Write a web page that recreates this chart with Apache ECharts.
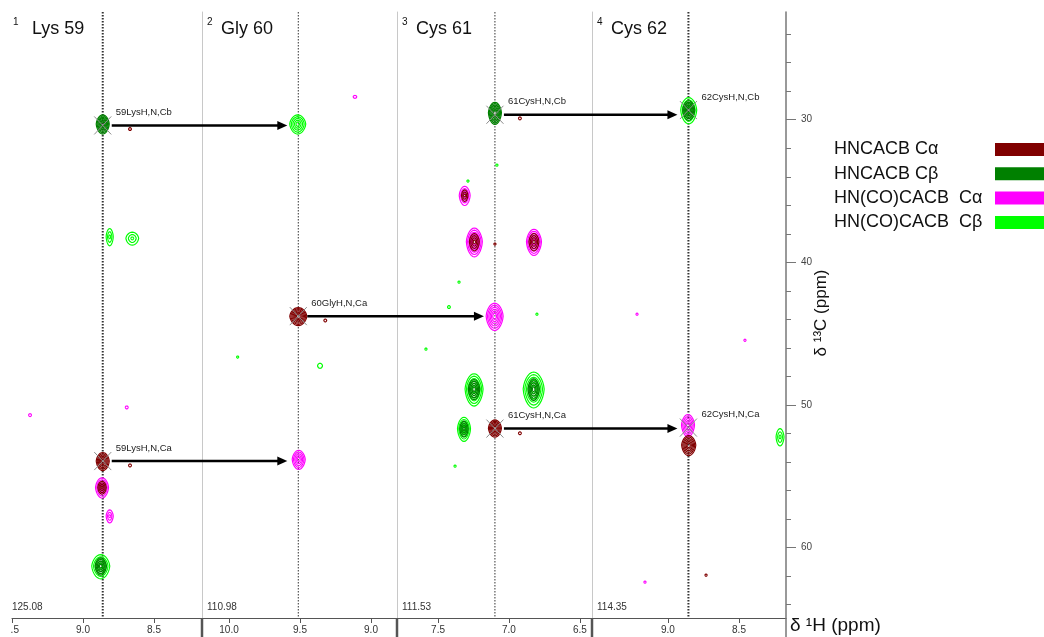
<!DOCTYPE html>
<html>
<head>
<meta charset="utf-8">
<script src="https://cdn.jsdelivr.net/npm/echarts@6/dist/echarts.min.js"></script>
<style>
  html, body { margin: 0; padding: 0; background: #fff; }
  #chart { width: 1044px; height: 637px; }
</style>
</head>
<body>
<div id="chart"></div>
<script>
// ---- strip plot data: sequential walk Lys 59 -> Cys 62 ----
const residues = ['Lys 59', 'Gly 60', 'Cys 61', 'Cys 62'];
const stripNumbers = ['1', '2', '3', '4'];
const nitrogenShifts = ['125.08', '110.98', '111.53', '114.35'];
const amideShifts = [8.861, 9.512, 7.099, 8.856];          // 1H of each strip (ppm)
const protonRanges = [[9.5, 8.162], [10.19, 8.817], [7.789, 6.415], [9.535, 8.169]];
const protonTicks = [[9.5, 9.0, 8.5], [10.0, 9.5, 9.0], [7.5, 7.0, 6.5], [9.0, 8.5]];
const carbonRange = [22.44, 64.96];
const carbonTicks = [30, 40, 50, 60];
const carbonMinorTicks = [24, 26, 28, 32, 34, 36, 38, 42, 44, 46, 48, 52, 54, 56, 58, 62, 64];
const spectrumNames = ['HNCACB Cα', 'HNCACB Cβ', 'HN(CO)CACB  Cα', 'HN(CO)CACB  Cβ'];

// peaks: [strip, 1H ppm, 13C ppm, 1H linewidth, 13C linewidth, contour levels]
const hncacbCa = [
  [0, 8.861, 53.95, 0.092, 1.26, 6],
  [0, 8.866, 55.80, 0.060, 0.90, 4],
  [0, 8.669, 30.65, 0.02, 0.2, 1],
  [0, 8.669, 54.25, 0.02, 0.2, 1],
  [1, 9.512, 43.78, 0.120, 1.26, 7],
  [1, 9.322, 44.08, 0.02, 0.2, 1],
  [2, 7.099, 51.64, 0.092, 1.20, 6],
  [2, 7.312, 35.31, 0.045, 0.80, 3],
  [2, 7.244, 38.56, 0.070, 1.20, 4],
  [2, 6.824, 38.56, 0.070, 1.20, 4],
  [2, 6.923, 29.90, 0.02, 0.2, 1],
  [2, 7.099, 38.72, 0.015, 0.15, 1],
  [2, 6.923, 51.99, 0.02, 0.2, 1],
  [3, 8.854, 52.83, 0.100, 1.40, 6],
  [3, 8.732, 61.95, 0.015, 0.15, 1]
];
const hncacbCb = [
  [0, 8.861, 30.30, 0.092, 1.33, 7],
  [0, 8.875, 61.32, 0.080, 1.20, 5],
  [2, 7.099, 29.51, 0.092, 1.54, 7],
  [2, 7.246, 48.90, 0.080, 1.40, 5],
  [2, 6.826, 48.90, 0.080, 1.50, 5],
  [2, 7.317, 51.68, 0.060, 1.10, 4],
  [3, 8.854, 29.32, 0.085, 1.35, 6]
];
const hncocacbCa = [
  [0, 8.866, 55.80, 0.092, 1.40, 5],
  [0, 8.812, 57.81, 0.050, 0.90, 3],
  [0, 9.373, 50.72, 0.02, 0.2, 1],
  [0, 8.692, 50.18, 0.02, 0.2, 1],
  [1, 9.509, 53.83, 0.092, 1.33, 5],
  [1, 9.113, 28.39, 0.025, 0.2, 1],
  [2, 7.312, 35.31, 0.077, 1.33, 4],
  [2, 7.244, 38.56, 0.113, 2.00, 6],
  [2, 6.824, 38.56, 0.106, 1.82, 6],
  [2, 7.101, 43.78, 0.120, 1.90, 6],
  [3, 8.859, 51.42, 0.092, 1.54, 5],
  [3, 9.218, 43.64, 0.015, 0.15, 1],
  [3, 8.458, 45.47, 0.015, 0.15, 1],
  [3, 9.162, 62.44, 0.015, 0.15, 1]
];
const hncocacbCb = [
  [0, 8.812, 38.21, 0.050, 1.20, 3],
  [0, 8.653, 38.32, 0.090, 0.90, 3],
  [0, 8.875, 61.32, 0.127, 1.68, 5],
  [1, 9.516, 30.30, 0.113, 1.33, 5],
  [1, 9.939, 46.65, 0.015, 0.15, 1],
  [1, 9.359, 47.26, 0.035, 0.35, 1],
  [2, 7.085, 33.18, 0.015, 0.15, 1],
  [2, 7.289, 34.30, 0.015, 0.15, 1],
  [2, 7.352, 41.39, 0.015, 0.15, 1],
  [2, 7.423, 43.14, 0.02, 0.2, 1],
  [2, 7.585, 46.09, 0.015, 0.15, 1],
  [2, 6.803, 43.64, 0.015, 0.15, 1],
  [2, 7.246, 48.90, 0.127, 2.25, 6],
  [2, 6.826, 48.90, 0.148, 2.50, 6],
  [2, 7.317, 51.68, 0.092, 1.68, 5],
  [2, 7.380, 54.30, 0.015, 0.15, 1],
  [3, 8.854, 29.32, 0.113, 1.82, 5],
  [3, 8.211, 52.25, 0.056, 1.20, 3]
];

// assigned peaks: [strip, 1H ppm, 13C ppm, label]
const assignments = [
  [0, 8.861, 30.40, '59LysH,N,Cb'],
  [0, 8.861, 53.95, '59LysH,N,Ca'],
  [1, 9.512, 43.78, '60GlyH,N,Ca'],
  [2, 7.099, 29.65, '61CysH,N,Cb'],
  [2, 7.099, 51.67, '61CysH,N,Ca'],
  [3, 8.856, 29.32, '62CysH,N,Cb'],
  [3, 8.856, 51.60, '62CysH,N,Ca']
];

// ---- layout / style ----
const FONT = '"Liberation Sans", Arial, Helvetica, sans-serif';
const stripLeft = [12, 202, 397, 592];
const stripRight = [202, 397, 592, 786];
const plotTop = 12, plotBottom = 618;
const spectrumColors = ['#800000', '#008000', '#ff00ff', '#00ff00'];

const chart = echarts.init(document.getElementById('chart'), null, { renderer: 'canvas' });

function drawPeak(api, color) {
  const c = api.coord([api.value(0), api.value(1)]);
  const span = api.size([api.value(2), api.value(3)]);
  const levels = api.value(4);
  const rings = [];
  for (let k = levels; k >= 1; k--) {
    const f = levels === 1 ? 1 : 0.22 + 0.78 * (k - 1) / (levels - 1);
    const rx = Math.max(span[0] * f / 2, 1);
    const ry = Math.max(span[1] * f / 2, 1);
    const pts = [];
    const n = 28;
    for (let i = 0; i < n; i++) {
      const t = (i / n) * Math.PI * 2;
      const sn = Math.sin(t);
      pts.push([c[0] + rx * Math.cos(t) * (1 - 0.12 * Math.abs(sn)),
                c[1] + ry * sn * (sn > 0 ? 1.06 : 0.96)]);
    }
    rings.push({ type: 'polygon', shape: { points: pts },
                 style: { fill: 'none', stroke: color, lineWidth: 1.15 } });
  }
  return { type: 'group', children: rings };
}

function drawAssignment(api) {
  const c = api.coord([api.value(0), api.value(1)]);
  const label = api.value(2);
  const g = { stroke: '#8c8c8c', lineWidth: 1 };
  return {
    type: 'group',
    children: [
      { type: 'line', shape: { x1: c[0] - 8.5, y1: c[1] - 9, x2: c[0] + 8.5, y2: c[1] + 9 }, style: g },
      { type: 'line', shape: { x1: c[0] - 8.5, y1: c[1] + 9, x2: c[0] + 8.5, y2: c[1] - 9 }, style: g },
      { type: 'text', x: c[0] + 13, y: c[1] - 13,
        style: { text: label, fill: '#222', font: '9.5px ' + FONT, align: 'left', verticalAlign: 'middle' } }
    ]
  };
}

const grids = [], xAxes = [], yAxes = [], series = [];
for (let s = 0; s < 4; s++) {
  grids.push({ left: stripLeft[s], top: plotTop, width: stripRight[s] - stripLeft[s],
               height: plotBottom - plotTop, containLabel: false });
  xAxes.push({
    type: 'value', gridIndex: s, inverse: true, position: 'bottom',
    min: protonRanges[s][1], max: protonRanges[s][0],
    axisLine: { show: true, onZero: false, lineStyle: { color: '#555', width: 1 } },
    axisTick: { show: true, length: 5, customValues: protonTicks[s], lineStyle: { color: '#555' } },
    axisLabel: { show: true, customValues: protonTicks[s], margin: 7, fontSize: 10, color: '#333',
                 fontFamily: FONT, formatter: v => v.toFixed(1) },
    splitLine: { show: false }
  });
  yAxes.push({
    type: 'value', gridIndex: s, inverse: true, position: 'left',
    min: carbonRange[0], max: carbonRange[1],
    axisLine: { show: s > 0, onZero: false, lineStyle: { color: '#c8c8c8', width: 1 } },
    axisTick: { show: false }, axisLabel: { show: false }, splitLine: { show: false }
  });
}
// 13C scale on the right of the last strip
yAxes.push({
  type: 'value', gridIndex: 3, inverse: true, position: 'right',
  min: carbonRange[0], max: carbonRange[1],
  axisLine: { show: true, onZero: false, lineStyle: { color: '#777', width: 1.5 } },
  axisTick: { show: true, length: 10, customValues: carbonTicks, lineStyle: { color: '#777' } },
  axisLabel: { show: true, customValues: carbonTicks, margin: 15, fontSize: 10, color: '#444',
               fontFamily: FONT, padding: [0, 0, 7, 0] },
  splitLine: { show: false }
});
yAxes.push({
  type: 'value', gridIndex: 3, inverse: true, position: 'right',
  min: carbonRange[0], max: carbonRange[1],
  axisLine: { show: false },
  axisTick: { show: true, length: 5, customValues: carbonMinorTicks, lineStyle: { color: '#777' } },
  axisLabel: { show: false }, splitLine: { show: false }
});

// amide 1H position of each strip
for (let s = 0; s < 4; s++) {
  series.push({
    type: 'line', xAxisIndex: s, yAxisIndex: s, silent: true, z: 1,
    data: [[amideShifts[s], carbonRange[0]], [amideShifts[s], carbonRange[1]]],
    symbol: 'none',
    lineStyle: { color: '#333', width: (s === 0 || s === 3) ? 2 : 1, type: [1.5, 1.5] }
  });
}

// contour peaks, HN(CO)CACB underneath HNCACB
const peakSets = [
  [hncocacbCb, 3], [hncocacbCa, 2], [hncacbCb, 1], [hncacbCa, 0]
];
peakSets.forEach(([rows, k]) => {
  for (let s = 0; s < 4; s++) {
    const data = rows.filter(r => r[0] === s).map(r => r.slice(1));
    if (!data.length) continue;
    series.push({
      type: 'custom', name: spectrumNames[k], xAxisIndex: s, yAxisIndex: s, z: 3,
      silent: true, clip: true,
      encode: { x: 0, y: 1 },
      data: data,
      renderItem: (params, api) => drawPeak(api, spectrumColors[k])
    });
  }
});

// assignment crosses and labels
for (let s = 0; s < 4; s++) {
  const data = assignments.filter(a => a[0] === s).map(a => [a[1], a[2], a[3]]);
  series.push({
    type: 'custom', xAxisIndex: s, yAxisIndex: s, z: 5, silent: true, clip: false,
    encode: { x: 0, y: 1 },
    dimensions: ['h', 'c', { name: 'label', type: 'ordinal' }],
    data: data,
    renderItem: (params, api) => drawAssignment(api)
  });
}

chart.setOption({
  animation: false,
  backgroundColor: '#fff',
  grid: grids, xAxis: xAxes, yAxis: yAxes, series: series
});

// ---- annotations placed through the axes' own scales ----
const px = (s, h) => chart.convertToPixel({ xAxisIndex: s }, h);
const py = (s, c) => chart.convertToPixel({ yAxisIndex: s }, c);
const graphics = [];

// sequential-walk arrows: each assignment to the next strip's amide line
assignments.forEach(a => {
  const s = a[0];
  if (s >= 3) return;
  const y = py(s, a[2]);
  const xs = px(s, a[1]) + 9;
  const xe = px(s + 1, amideShifts[s + 1]) - 11;
  graphics.push({ type: 'line', z: 20, shape: { x1: xs, y1: y, x2: xe - 8, y2: y },
                  style: { stroke: '#000', lineWidth: 2.5 } });
  graphics.push({ type: 'polygon', z: 20, shape: { points: [[xe, y], [xe - 10, y - 4.5], [xe - 10, y + 4.5]] },
                  style: { fill: '#000' } });
});

for (let s = 0; s < 4; s++) {
  const L = stripLeft[s];
  graphics.push({ type: 'text', z: 20, x: L + (s === 0 ? 1 : 5), y: 22,
                  style: { text: stripNumbers[s], font: '10px ' + FONT, fill: '#111', verticalAlign: 'middle' } });
  graphics.push({ type: 'text', z: 20, x: L + (s === 0 ? 20 : 19), y: 29,
                  style: { text: residues[s], font: '18px ' + FONT, fill: '#111', verticalAlign: 'middle' } });
  graphics.push({ type: 'text', z: 20, x: L + (s === 0 ? 0 : 5), y: 607,
                  style: { text: nitrogenShifts[s], font: '10px ' + FONT, fill: '#333', verticalAlign: 'middle' } });
  if (s > 0) {
    graphics.push({ type: 'line', z: 20, shape: { x1: L, y1: plotBottom, x2: L, y2: 637 },
                    style: { stroke: '#555', lineWidth: 2.5 } });
  }
}
// strip 1 tick labels are clipped at its left edge
graphics.push({ type: 'rect', z: 50, shape: { x: 0, y: plotBottom + 1, width: stripLeft[0] - 1, height: 20 },
                style: { fill: '#fff' } });
// 13C axis runs down to the bottom edge
graphics.push({ type: 'line', z: 20, shape: { x1: 786, y1: plotBottom, x2: 786, y2: 637 },
                style: { stroke: '#777', lineWidth: 1.5 } });

// axis titles
graphics.push({ type: 'text', z: 20, x: 790, y: 626,
                style: { text: 'δ ¹H (ppm)', font: '19px ' + FONT, fill: '#111', verticalAlign: 'middle' } });
graphics.push({ type: 'text', z: 20, x: 821, y: 313, rotation: Math.PI / 2,
                style: { text: 'δ ¹³C (ppm)', font: '17px ' + FONT, fill: '#111', align: 'center', verticalAlign: 'middle' } });

// spectrum key
spectrumNames.forEach((name, i) => {
  const yc = 149.5 + i * 24.3;
  graphics.push({ type: 'text', z: 20, x: 834, y: yc,
                  style: { text: name, font: '18px ' + FONT, fill: '#111', verticalAlign: 'middle' } });
  graphics.push({ type: 'rect', z: 20, shape: { x: 995, y: yc - 6.5, width: 49, height: 13 },
                  style: { fill: spectrumColors[i] } });
});

chart.setOption({ graphic: graphics });
</script>
</body>
</html>
